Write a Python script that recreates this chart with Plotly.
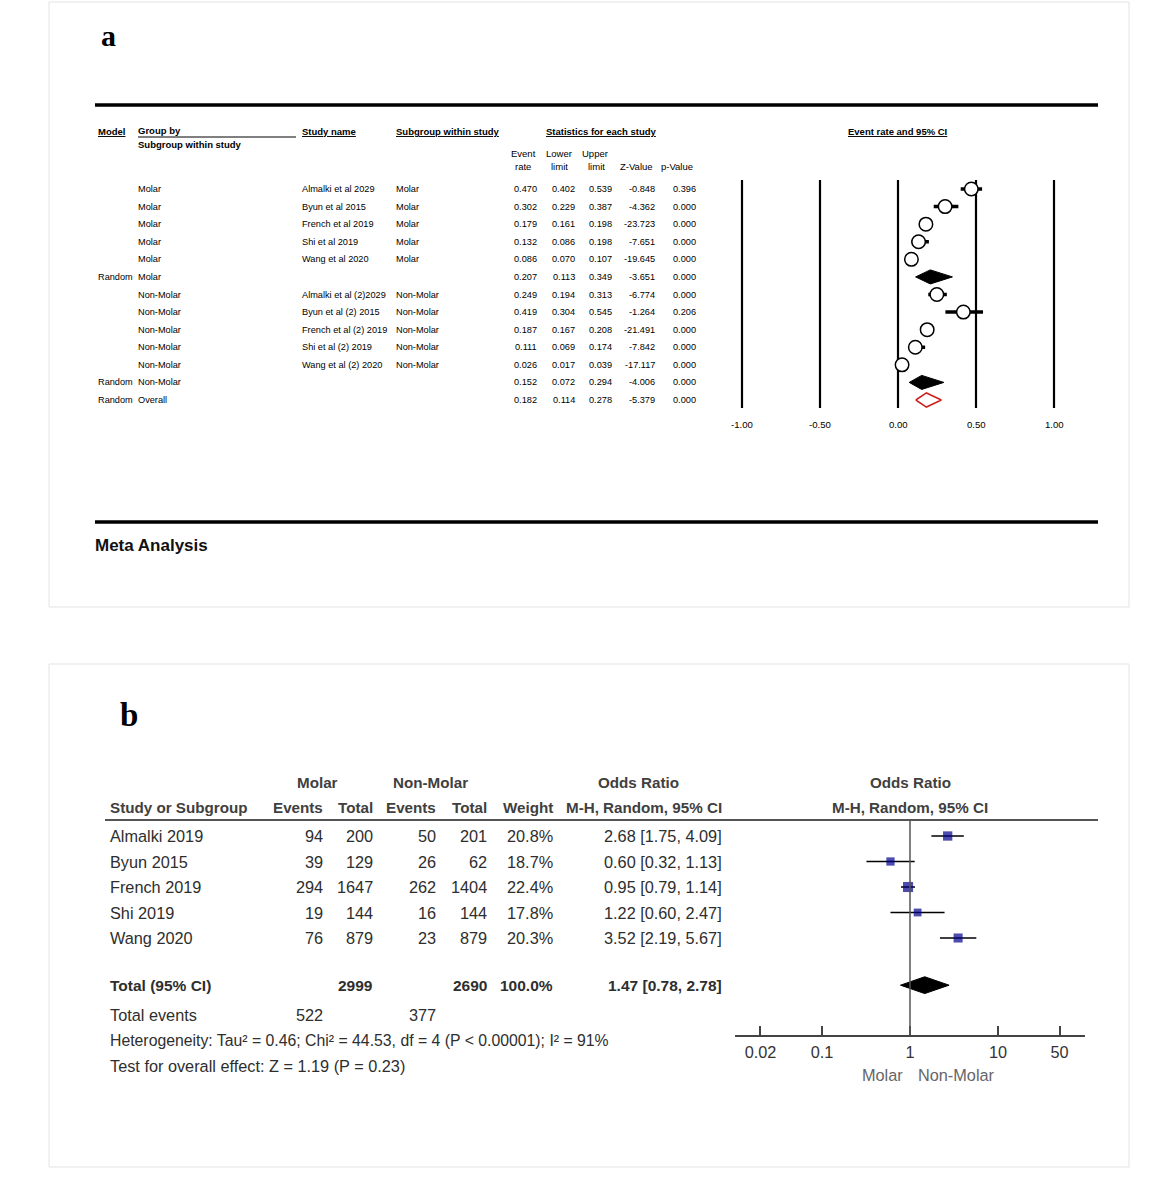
import plotly.graph_objects as go

W, H = 1159, 1177

# ---------------- Panel a data ----------------
a_model = ["", "", "", "", "", "Random", "", "", "", "", "", "Random", "Random"]
a_group = ["Molar"] * 6 + ["Non-Molar"] * 6 + ["Overall"]
a_study = ["Almalki et al 2029", "Byun et al 2015", "French et al 2019", "Shi et al 2019",
           "Wang et al 2020", "", "Almalki et al (2)2029", "Byun et al (2) 2015",
           "French et al (2) 2019", "Shi et al (2) 2019", "Wang et al (2) 2020", "", ""]
a_subgroup = ["Molar"] * 5 + [""] + ["Non-Molar"] * 5 + ["", ""]
a_kind = ["study"] * 5 + ["subtotal"] + ["study"] * 5 + ["subtotal", "overall"]
a_rate = [0.470, 0.302, 0.179, 0.132, 0.086, 0.207, 0.249, 0.419, 0.187, 0.111, 0.026, 0.152, 0.182]
a_lower = [0.402, 0.229, 0.161, 0.086, 0.070, 0.113, 0.194, 0.304, 0.167, 0.069, 0.017, 0.072, 0.114]
a_upper = [0.539, 0.387, 0.198, 0.198, 0.107, 0.349, 0.313, 0.545, 0.208, 0.174, 0.039, 0.294, 0.278]
a_z = [-0.848, -4.362, -23.723, -7.651, -19.645, -3.651, -6.774, -1.264, -21.491, -7.842, -17.117, -4.006, -5.379]
a_p = [0.396, 0.000, 0.000, 0.000, 0.000, 0.000, 0.000, 0.206, 0.000, 0.000, 0.000, 0.000, 0.000]
a_ticks = [-1.0, -0.5, 0.0, 0.5, 1.0]
a_ticklabels = ["-1.00", "-0.50", "0.00", "0.50", "1.00"]

# ---------------- Panel b data ----------------
b_study = ["Almalki 2019", "Byun 2015", "French 2019", "Shi 2019", "Wang 2020"]
b_m_events = [94, 39, 294, 19, 76]
b_m_total = [200, 129, 1647, 144, 879]
b_n_events = [50, 26, 262, 16, 23]
b_n_total = [201, 62, 1404, 144, 879]
b_weight = [20.8, 18.7, 22.4, 17.8, 20.3]
b_or = [2.68, 0.60, 0.95, 1.22, 3.52]
b_lo = [1.75, 0.32, 0.79, 0.60, 2.19]
b_hi = [4.09, 1.13, 1.14, 2.47, 5.67]
b_total_m, b_total_n, b_total_w = 2999, 2690, 100.0
b_total_or, b_total_lo, b_total_hi = 1.47, 0.78, 2.78
b_events_m, b_events_n = 522, 377
b_het = "Heterogeneity: Tau² = 0.46; Chi² = 44.53, df = 4 (P < 0.00001); I² = 91%"
b_test = "Test for overall effect: Z = 1.19 (P = 0.23)"
b_ticks = [0.02, 0.1, 1, 10, 50]
b_ticklabels = ["0.02", "0.1", "1", "10", "50"]

# ---------------- layout geometry (pixels) ----------------
SANS = "Liberation Sans, Arial, sans-serif"
SERIF = "Liberation Serif, Times New Roman, serif"

A_ROW0, A_ROWSTEP = 189.0, 211.0 / 12
A_X0PX, A_UNIT = 898.0, 156.0
A_TOP, A_BOT = 175.0, 415.0
B_ROW0, B_ROWSTEP = 836.0, 25.5
B_X1PX, B_DEC = 910.0, 88.0
B_TOP, B_BOT = 820.0, 1035.0
B_LEFT, B_RIGHT = 735.0, 1085.0


def a_row_at(px):
    return (px - A_ROW0) / A_ROWSTEP


def b_row_at(px):
    return (px - B_ROW0) / B_ROWSTEP


fig = go.Figure()
annotations = []
shapes = []


def txt(text, x, y, xanchor="left", size=10, color="black", family=SANS, bold=False,
        xref="x", yref="y"):
    if bold:
        text = "<b>" + text + "</b>"
    if xref == "x":
        x = x - 2 if xanchor == "left" else (x + 2 if xanchor == "right" else x)
    annotations.append(dict(text=text, x=x, y=y, xref=xref, yref=yref, xanchor=xanchor,
                            yanchor="middle", showarrow=False,
                            font=dict(size=size, color=color, family=family)))


def hline(x0, x1, y, width, color="black"):
    shapes.append(dict(type="line", xref="x", yref="y", x0=x0, x1=x1, y0=y, y1=y,
                       line=dict(color=color, width=width)))


# frames
for (y0, y1) in [(2, 607), (664, 1167)]:
    shapes.append(dict(type="rect", xref="x", yref="y", x0=49, x1=1129, y0=y0, y1=y1,
                       line=dict(color="#e3e3e3", width=1)))

# ---------------- Panel a ----------------
txt("a", 108, 35, xanchor="center", size=30, family=SERIF, bold=True)
hline(95, 1098, 105, 3.5)
hline(95, 1098, 522, 3.5)
txt("Meta Analysis", 95, 545, size=17, bold=True, color="#111")

HS = 9.5
txt("<u>Model</u>", 98, 131, size=HS, bold=True)
txt("Group by", 138, 130, size=HS, bold=True)
hline(138, 296, 137, 1)
txt("Subgroup within study", 138, 144, size=HS, bold=True)
txt("<u>Study name</u>", 302, 131, size=HS, bold=True)
txt("<u>Subgroup within study</u>", 396, 131, size=HS, bold=True)
txt("<u>Statistics for each study</u>", 546, 131, size=HS, bold=True)
txt("<u>Event rate and 95% CI</u>", 848, 131, size=HS, bold=True)
for t, x, y in [("Event", 523, 153), ("rate", 523, 166), ("Lower", 559, 153), ("limit", 559, 166),
                ("Upper", 595, 153), ("limit", 596, 166), ("Z-Value", 636, 166), ("p-Value", 677, 166)]:
    txt(t, x, y, xanchor="center", size=HS)

BS = 9.2
num_right = [537, 575, 612, 655, 696]
for i in range(len(a_rate)):
    if a_model[i]:
        txt(a_model[i], 98, i, size=BS, yref="y2")
    txt(a_group[i], 138, i, size=BS, yref="y2")
    if a_study[i]:
        txt(a_study[i], 302, i, size=BS, yref="y2")
    if a_subgroup[i]:
        txt(a_subgroup[i], 396, i, size=BS, yref="y2")
    vals = [a_rate[i], a_lower[i], a_upper[i], a_z[i], a_p[i]]
    for v, xr in zip(vals, num_right):
        txt(f"{v:.3f}", xr, i, xanchor="right", size=BS, yref="y2")

for v, lab in zip(a_ticks, a_ticklabels):
    txt(lab, v, 424, xanchor="center", size=9.6, xref="x2")
    shapes.append(dict(type="line", xref="x2", yref="y2", x0=v, x1=v,
                       y0=a_row_at(180), y1=a_row_at(408), layer="below",
                       line=dict(color="black", width=2.2)))

# study CI lines
ci_x, ci_y = [], []
for i, k in enumerate(a_kind):
    if k == "study":
        ci_x += [a_lower[i], a_upper[i], None]
        ci_y += [i, i, None]
fig.add_trace(go.Scatter(x=ci_x, y=ci_y, mode="lines", xaxis="x2", yaxis="y2",
                         line=dict(color="black", width=3.5), hoverinfo="skip",
                         showlegend=False, cliponaxis=False))
st = [i for i, k in enumerate(a_kind) if k == "study"]
fig.add_trace(go.Scatter(x=[a_rate[i] for i in st], y=st, mode="markers", xaxis="x2", yaxis="y2",
                         marker=dict(symbol="circle", size=13.5, color="white",
                                     line=dict(color="black", width=1.5)),
                         showlegend=False, cliponaxis=False))
DH = 0.4
for i, k in enumerate(a_kind):
    if k == "study":
        continue
    xs = [a_lower[i], a_rate[i], a_upper[i], a_rate[i], a_lower[i]]
    ys = [i, i - DH, i, i + DH, i]
    if k == "subtotal":
        fig.add_trace(go.Scatter(x=xs, y=ys, mode="lines", fill="toself", fillcolor="black",
                                 line=dict(color="black", width=1), xaxis="x2", yaxis="y2",
                                 showlegend=False, hoverinfo="skip"))
    else:
        fig.add_trace(go.Scatter(x=xs, y=ys, mode="lines", fill="toself", fillcolor="white",
                                 line=dict(color="#d02020", width=1.5), xaxis="x2", yaxis="y2",
                                 showlegend=False, hoverinfo="skip"))

# ---------------- Panel b ----------------
txt("b", 129, 715, xanchor="center", size=33, family=SERIF, bold=True)
HC = "#404040"
HF = 15.2
BF = 16.3
txt("Molar", 317, 782, xanchor="center", size=HF, bold=True, color=HC)
txt("Non-Molar", 430, 782, xanchor="center", size=HF, bold=True, color=HC)
txt("Odds Ratio", 638, 782, xanchor="center", size=HF, bold=True, color=HC)
txt("Odds Ratio", 910, 782, xanchor="center", size=HF, bold=True, color=HC)
txt("Study or Subgroup", 110, 807, size=HF, bold=True, color=HC)
for t, xr in [("Events", 323), ("Total", 373), ("Events", 436), ("Total", 487), ("Weight", 553),
              ("M-H, Random, 95% CI", 722)]:
    txt(t, xr, 807, xanchor="right", size=HF, bold=True, color=HC)
txt("M-H, Random, 95% CI", 910, 807, xanchor="center", size=HF, bold=True, color=HC)
hline(105, 1098, 820, 2, color="#555555")

TC = "#2e2e2e"
for i in range(len(b_study)):
    txt(b_study[i], 110, i, size=BF, color=TC, yref="y3")
    for v, xr in [(b_m_events[i], 323), (b_m_total[i], 373), (b_n_events[i], 436),
                  (b_n_total[i], 487)]:
        txt(str(v), xr, i, xanchor="right", size=BF, color=TC, yref="y3")
    txt(f"{b_weight[i]:.1f}%", 553, i, xanchor="right", size=BF, color=TC, yref="y3")
    txt(f"{b_or[i]:.2f} [{b_lo[i]:.2f}, {b_hi[i]:.2f}]", 722, i, xanchor="right", size=BF,
        color=TC, yref="y3")

R_TOT = 5.85
TB = 15.5
txt("Total (95% CI)", 110, R_TOT, size=TB, bold=True, color=TC, yref="y3")
txt(str(b_total_m), 373, R_TOT, xanchor="right", size=TB, bold=True, color=TC, yref="y3")
txt(str(b_total_n), 487, R_TOT, xanchor="right", size=TB, bold=True, color=TC, yref="y3")
txt(f"{b_total_w:.1f}%", 553, R_TOT, xanchor="right", size=TB, bold=True, color=TC, yref="y3")
txt(f"{b_total_or:.2f} [{b_total_lo:.2f}, {b_total_hi:.2f}]", 722, R_TOT, xanchor="right",
    size=TB, bold=True, color=TC, yref="y3")
txt("Total events", 110, 7, size=BF, color=TC, yref="y3")
txt(str(b_events_m), 323, 7, xanchor="right", size=BF, color=TC, yref="y3")
txt(str(b_events_n), 436, 7, xanchor="right", size=BF, color=TC, yref="y3")
# these two rows lie below the forest axis, so they are placed on the page axis
txt(b_het, 110, B_ROW0 + 8 * B_ROWSTEP, size=15.8, color=TC)
txt(b_test, 110, B_ROW0 + 9 * B_ROWSTEP, size=BF, color=TC)

txt("Molar", 903, 1075, xanchor="right", size=BF, color="#666666")
txt("Non-Molar", 918, 1075, xanchor="left", size=BF, color="#666666")

shapes.append(dict(type="line", xref="x3", yref="y3 domain", x0=1, x1=1, y0=0, y1=1,
                   line=dict(color="#555555", width=1.5)))

bx, by = [], []
for i in range(len(b_or)):
    bx += [b_lo[i], b_hi[i], None]
    by += [i, i, None]
fig.add_trace(go.Scatter(x=bx, y=by, mode="lines", xaxis="x3", yaxis="y3",
                         line=dict(color="black", width=1.5), showlegend=False, hoverinfo="skip"))
fig.add_trace(go.Scatter(x=b_or, y=list(range(len(b_or))), mode="markers", xaxis="x3", yaxis="y3",
                         marker=dict(symbol="square", color="#00008c",
                                     size=[7.4 + (w - 17.0) * 0.5 for w in b_weight],
                                     line=dict(width=0)),
                         showlegend=False))
BH = 0.33
fig.add_trace(go.Scatter(x=[b_total_lo, b_total_or, b_total_hi, b_total_or, b_total_lo],
                         y=[R_TOT, R_TOT - BH, R_TOT, R_TOT + BH, R_TOT],
                         mode="lines", fill="toself", fillcolor="black",
                         line=dict(color="black", width=1), xaxis="x3", yaxis="y3",
                         showlegend=False, hoverinfo="skip"))

# base invisible trace for the page axes
fig.add_trace(go.Scatter(x=[0, W], y=[0, H], mode="markers", marker=dict(opacity=0),
                         showlegend=False, hoverinfo="skip"))


def ydom(top, bot):
    return [1 - bot / H, 1 - top / H]


fig.update_layout(
    width=W, height=H, autosize=False,
    margin=dict(l=0, r=0, t=0, b=0, pad=0),
    paper_bgcolor="white", plot_bgcolor="rgba(0,0,0,0)",
    showlegend=False,
    xaxis=dict(range=[0, W], domain=[0, 1], visible=False, fixedrange=True),
    yaxis=dict(range=[H, 0], domain=[0, 1], visible=False, fixedrange=True),
    xaxis2=dict(range=[-1.05, 1.05],
                domain=[(A_X0PX - 1.05 * A_UNIT) / W, (A_X0PX + 1.05 * A_UNIT) / W],
                anchor="y2", visible=False),
    yaxis2=dict(range=[a_row_at(A_BOT), a_row_at(A_TOP)], domain=ydom(A_TOP, A_BOT),
                anchor="x2", visible=False),
    xaxis3=dict(type="log", range=[(B_LEFT - B_X1PX) / B_DEC, (B_RIGHT - B_X1PX) / B_DEC],
                domain=[B_LEFT / W, B_RIGHT / W], anchor="y3",
                showline=True, linecolor="#444444", linewidth=1.5,
                ticks="inside", ticklen=9, tickwidth=1.5, tickcolor="#444444",
                tickvals=b_ticks, ticktext=b_ticklabels, showgrid=False, zeroline=False,
                tickfont=dict(size=BF, family=SANS, color="#333333"),
                ticklabelstandoff=2),
    yaxis3=dict(range=[b_row_at(B_BOT), b_row_at(B_TOP)], domain=ydom(B_TOP, B_BOT),
                anchor="x3", visible=False),
    annotations=annotations,
    shapes=shapes,
)

fig.write_html("out.html", config={"displayModeBar": False},
               post_script="document.body.style.margin='0';")
